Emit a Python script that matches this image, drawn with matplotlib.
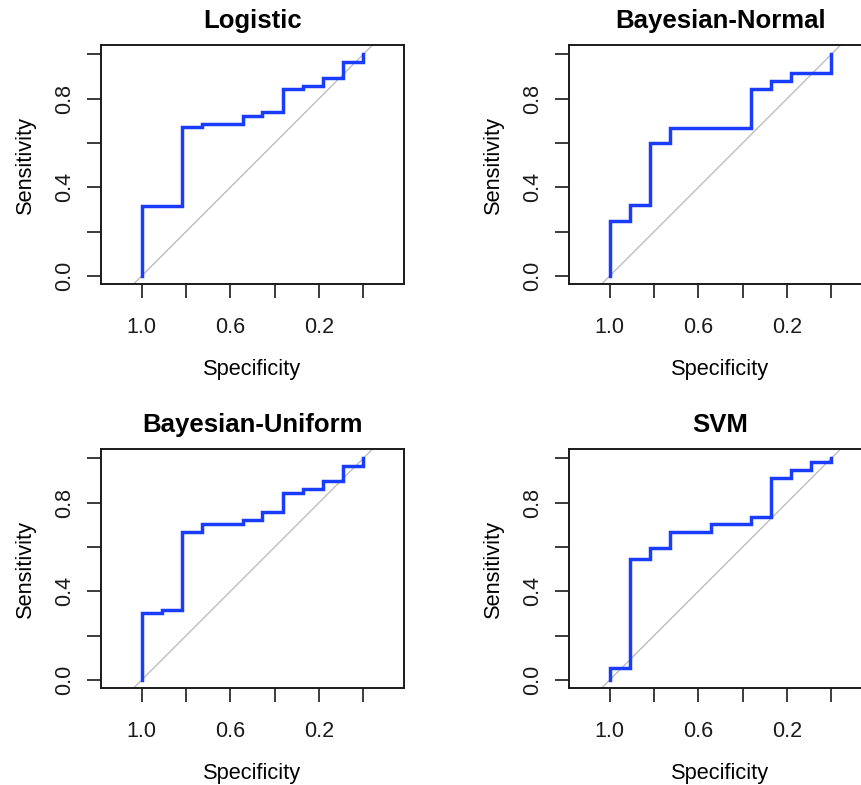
import matplotlib
matplotlib.use("Agg")
import matplotlib.pyplot as plt

plt.rcParams['font.family'] = ['Liberation Sans', 'DejaVu Sans']

titles = ["Logistic", "Bayesian-Normal", "Bayesian-Uniform", "SVM"]

# step vertices (specificity, sensitivity), drawn with steps-post
spec_logistic = [1.0, 1.0, 0.818, 0.727, 0.545, 0.455, 0.364, 0.273, 0.182, 0.091, 0.0, 0.0]
sens_logistic = [0.0, 0.318, 0.670, 0.685, 0.723, 0.739, 0.844, 0.859, 0.895, 0.966, 0.966, 1.0]

spec_bnormal = [1.0, 1.0, 0.909, 0.818, 0.727, 0.364, 0.273, 0.182, 0.0, 0.0]
sens_bnormal = [0.0, 0.249, 0.319, 0.598, 0.669, 0.843, 0.879, 0.915, 0.915, 1.0]

spec_buniform = [1.0, 1.0, 0.909, 0.818, 0.727, 0.545, 0.455, 0.364, 0.273, 0.182, 0.091, 0.0, 0.0]
sens_buniform = [0.0, 0.301, 0.314, 0.666, 0.704, 0.720, 0.758, 0.845, 0.860, 0.896, 0.967, 0.967, 1.0]

spec_svm = [1.0, 1.0, 0.909, 0.818, 0.727, 0.545, 0.364, 0.273, 0.182, 0.091, 0.0, 0.0]
sens_svm = [0.0, 0.053, 0.546, 0.597, 0.666, 0.702, 0.737, 0.913, 0.947, 0.983, 0.983, 1.0]

curves = [(spec_logistic, sens_logistic), (spec_bnormal, sens_bnormal),
          (spec_buniform, sens_buniform), (spec_svm, sens_svm)]

x_ticks = [1.0, 0.8, 0.6, 0.4, 0.2, 0.0]
x_labels = ["1.0", "", "0.6", "", "0.2", ""]
y_ticks = [0.0, 0.2, 0.4, 0.6, 0.8, 1.0]
y_labels = ["0.0", "", "0.4", "", "0.8", ""]

W, H = 861, 785
fig = plt.figure(figsize=(W / 100, H / 100), dpi=100)

# axes boxes in pixels: left, top
boxes = [(101, 45), (569, 45), (101, 449), (569, 449)]
bw, bh = 303, 239

for (left, top), title, (sx, sy) in zip(boxes, titles, curves):
    ax = fig.add_axes([left / W, 1 - (top + bh) / H, bw / W, bh / H])
    ax.axline((1, 0), (0, 1), color='#bebebe', lw=1.0, zorder=1)
    ax.plot(sx, sy, drawstyle='steps-post', color='#1a3cff', lw=2.5,
            solid_joinstyle='miter', zorder=2)
    ax.set_xlim(1.1835, -0.1835)
    ax.set_ylim(-0.036, 1.042)
    ax.set_xticks(x_ticks)
    ax.set_xticklabels(x_labels)
    ax.set_yticks(y_ticks)
    ax.set_yticklabels(y_labels, rotation=90, va='center')
    ax.tick_params(length=10, width=1.2, labelsize=15.5, colors='#1a1a1a')
    ax.tick_params(axis='x', pad=14)
    ax.tick_params(axis='y', pad=8.5)
    for sp in ax.spines.values():
        sp.set_linewidth(1.4)
        sp.set_color('#1a1a1a')
    ax.set_title(title, fontsize=18.5, fontweight='bold', pad=12)
    ax.set_xlabel("Specificity", fontsize=15.7, labelpad=15)
    ax.set_ylabel("Sensitivity", fontsize=15.7, labelpad=13)

fig.savefig("out.png", dpi=100)
